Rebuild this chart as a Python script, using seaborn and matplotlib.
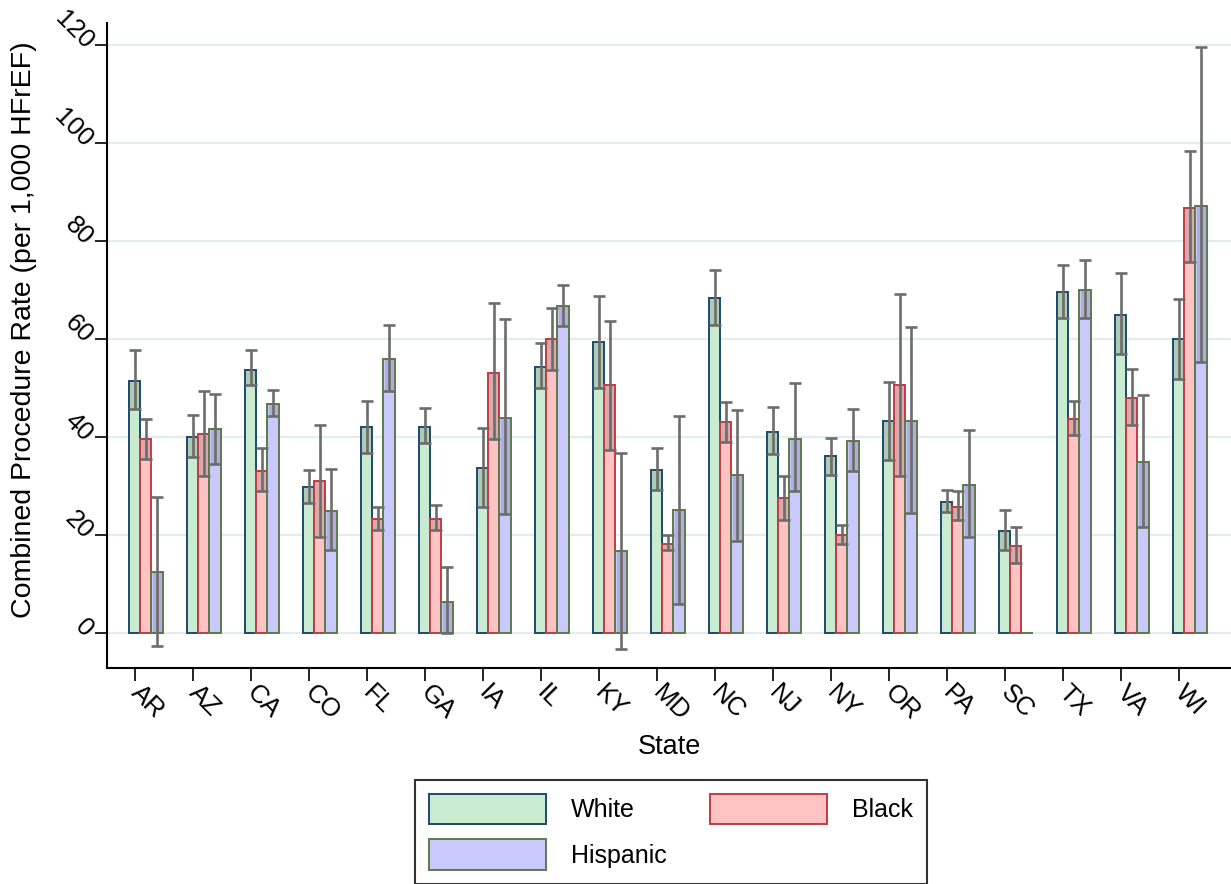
import numpy as np
import pandas as pd
import matplotlib
matplotlib.use("Agg")
import matplotlib.pyplot as plt
import seaborn as sns
from matplotlib.patches import Patch

states = ["AR", "AZ", "CA", "CO", "FL", "GA", "IA", "IL", "KY", "MD",
          "NC", "NJ", "NY", "OR", "PA", "SC", "TX", "VA", "WI"]
groups = ["White", "Black", "Hispanic"]

white = [51.5, 40.1, 53.8, 29.8, 42.0, 42.1, 33.7, 54.4, 59.4, 33.4,
         68.3, 41.1, 36.1, 43.3, 26.8, 20.8, 69.7, 65.0, 60.0]
white_lo = [45.7, 36.0, 50.6, 26.6, 36.8, 38.8, 25.7, 50.0, 50.1, 29.2,
            62.8, 36.5, 32.2, 35.4, 24.7, 17.0, 64.4, 57.0, 51.9]
white_hi = [57.8, 44.6, 57.7, 33.4, 47.4, 45.9, 41.8, 59.2, 68.8, 37.8,
            74.1, 46.1, 39.9, 51.2, 29.2, 25.1, 75.1, 73.4, 68.2]

black = [39.7, 40.7, 33.0, 31.1, 23.4, 23.4, 53.1, 60.1, 50.6, 18.3,
         43.1, 27.5, 20.1, 50.6, 25.7, 17.7, 43.7, 48.0, 86.8]
black_lo = [35.6, 32.1, 29.0, 19.7, 21.0, 21.0, 39.7, 53.8, 37.4, 17.0,
            39.1, 23.1, 18.3, 32.0, 23.0, 14.4, 40.5, 42.4, 75.7]
black_hi = [43.8, 49.5, 37.8, 42.5, 25.7, 26.2, 67.3, 66.4, 63.7, 20.1,
            47.2, 32.1, 22.1, 69.2, 29.0, 21.7, 47.4, 54.0, 98.4]

hispanic = [12.4, 41.6, 46.8, 24.9, 56.0, 6.4, 44.0, 66.7, 16.7, 25.1,
            32.2, 39.7, 39.2, 43.3, 30.2, 0.0, 70.1, 35.0, 87.1]
hispanic_lo = [-2.7, 34.5, 44.4, 17.0, 49.5, 0.0, 24.4, 62.6, -3.2, 6.0,
               18.9, 29.0, 33.0, 24.5, 19.7, np.nan, 64.4, 21.7, 55.3]
hispanic_hi = [27.8, 48.8, 49.7, 33.5, 62.8, 13.5, 64.1, 71.1, 36.8, 44.4,
               45.5, 51.0, 45.8, 62.4, 41.4, np.nan, 76.1, 48.7, 119.6]

yticks = [0, 20, 40, 60, 80, 100, 120]

fills = {"White": "#c9ecd0", "Black": "#ffc3c4", "Hispanic": "#c9c9fd"}
edges = {"White": "#1d4a6a", "Black": "#c23c44", "Hispanic": "#5c7a48"}

vals = {"White": (white, white_lo, white_hi),
        "Black": (black, black_lo, black_hi),
        "Hispanic": (hispanic, hispanic_lo, hispanic_hi)}

rows = []
for g in groups:
    for s, v in zip(states, vals[g][0]):
        rows.append({"State": s, "Rate": v, "Group": g})
df = pd.DataFrame(rows)

sns.set_style("white")
plt.rcParams["font.family"] = ["Liberation Sans", "DejaVu Sans"]
plt.rcParams["text.color"] = "black"
plt.rcParams["axes.labelcolor"] = "black"
plt.rcParams["xtick.color"] = "black"
plt.rcParams["ytick.color"] = "black"

fig = plt.figure(figsize=(12.31, 8.84), dpi=100)
ax = fig.add_axes([0.0869, 0.2443, 0.9131, 0.7297])

sns.barplot(data=df, x="State", y="Rate", hue="Group", order=states,
            hue_order=groups, palette=fills, width=0.585, errorbar=None,
            linewidth=1.4, ax=ax, legend=False, zorder=3)

bw = None
white_x = None
for g, cont in zip(groups, ax.containers):
    v, lo, hi = (np.array(a, dtype=float) for a in vals[g])
    xs = []
    for p in cont.patches:
        p.set_edgecolor(edges[g])
        p.set_facecolor(fills[g])
        p.set_linewidth(1.4)
        xs.append(p.get_x() + p.get_width() / 2)
        bw = p.get_width()
    xs = np.array(xs)
    if g == "White":
        white_x = xs
    ok = ~np.isnan(lo)
    base = np.clip(lo[ok], 0, None)
    ax.bar(xs[ok], v[ok] - base, bottom=base, width=bw * 0.8,
           color="#555555", alpha=0.22, linewidth=0, zorder=4)
    ax.errorbar(xs[ok], v[ok], yerr=[v[ok] - lo[ok], hi[ok] - v[ok]],
                fmt="none", ecolor="#6c6c6c", elinewidth=1.9,
                capsize=4, capthick=1.9, zorder=5)

ax.set_xlim(-0.67, 18.71)
ax.set_ylim(-7.1, 124.5)
ax.set_yticks(yticks)
ax.set_yticklabels([str(t) for t in yticks], rotation=-45,
                   ha="right", va="center", rotation_mode="anchor",
                   fontsize=18.5)
ax.set_xticks(white_x)
ax.set_xticklabels(states, rotation=-45, ha="left", va="center",
                   rotation_mode="anchor", fontsize=18.5)

ax.grid(axis="y", color="#e2edf1", linewidth=1.5, zorder=0)
ax.grid(axis="x", visible=False)
ax.set_axisbelow(True)

for side in ["top", "right"]:
    ax.spines[side].set_visible(False)
for side in ["left", "bottom"]:
    ax.spines[side].set_color("black")
    ax.spines[side].set_linewidth(1.5)

ax.tick_params(axis="both", direction="out", length=9, width=1.4,
               color="#222222", pad=4, left=True, bottom=True)
ax.tick_params(axis="x", pad=6)

ax.set_xlabel("State", fontsize=19.5, labelpad=6)
ax.set_ylabel("Combined Procedure Rate (per 1,000 HFrEF)", fontsize=20.5)
ax.yaxis.set_label_coords(-0.062, 0.524)

handles = {g: Patch(facecolor=fills[g], edgecolor=edges[g], linewidth=1.4)
           for g in groups}
leg_order = ["White", "Hispanic", "Black"]
leg = fig.legend([handles[g] for g in leg_order], leg_order,
                 loc="upper center", bbox_to_anchor=(0.545, 0.1176),
                 borderaxespad=0, ncol=2, fontsize=18,
                 frameon=True, fancybox=False, edgecolor="black",
                 handlelength=4.7, handleheight=1.5, handletextpad=1.0,
                 columnspacing=1.7, borderpad=0.55, labelspacing=0.6)
leg.get_frame().set_linewidth(1.5)

fig.savefig("out.png", dpi=100)
